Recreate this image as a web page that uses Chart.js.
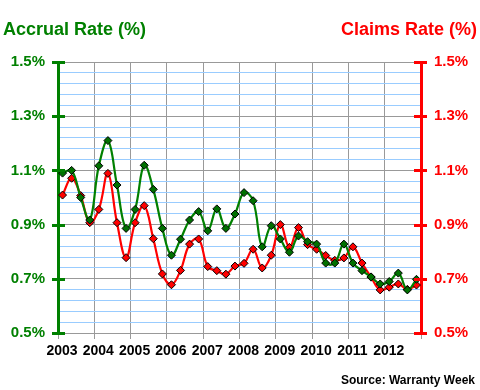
<!DOCTYPE html>
<html>
<head>
<meta charset="utf-8">
<script src="https://cdn.jsdelivr.net/npm/chart.js@4/dist/chart.umd.min.js"></script>
<style>
  body { margin: 0; background: #fff; }
  canvas { display: block; }
</style>
</head>
<body>
<canvas id="chart" width="480" height="390"></canvas>
<script>
'use strict';

// quarterly data, 2003 Q1 .. 2012 Q4
var years = [2003, 2004, 2005, 2006, 2007, 2008, 2009, 2010, 2011, 2012];
var accrualRate = [
    1.09, 1.10, 1.00, 0.917, 1.117, 1.21, 1.046, 0.886, 0.956, 1.119,
    1.03, 0.886, 0.787, 0.846, 0.917, 0.948, 0.877, 0.958, 0.886, 0.939,
    1.018, 0.988, 0.818, 0.896, 0.847, 0.798, 0.858, 0.837, 0.828, 0.758,
    0.758, 0.828, 0.758, 0.730, 0.707, 0.681, 0.690, 0.721, 0.659, 0.698
];
var claimsRate = [
    1.009, 1.071, 1.007, 0.907, 0.956, 1.089, 0.907, 0.778, 0.907, 0.970,
    0.848, 0.718, 0.678, 0.731, 0.828, 0.847, 0.745, 0.730, 0.717, 0.747,
    0.757, 0.809, 0.740, 0.787, 0.900, 0.816, 0.889, 0.826, 0.809, 0.786,
    0.768, 0.777, 0.818, 0.758, 0.706, 0.659, 0.669, 0.681, 0.661, 0.677
];
var yTickLabels = ['0.5%', '0.7%', '0.9%', '1.1%', '1.3%', '1.5%'];

var GREEN = '#008000';
var RED = '#ff0000';
var FONT = '"Liberation Sans", Arial, sans-serif';

// x position of each quarter (middle of the quarter)
function toPoints(values) {
    return values.map(function(v, i) {
        return { x: years[Math.floor(i / 4)] + ((i % 4) + 0.5) / 4, y: v };
    });
}

function isMajor(v) {
    var r = Math.round(v * 100);
    return (r - 50) % 20 === 0;
}

function majorLabel(v) {
    var r = Math.round(v * 100);
    return isMajor(v) ? yTickLabels[(r - 50) / 20] : '';
}

// [ titles, source and the crossing axis ticks ]
var decorations = {
    id: 'decorations',
    afterDraw: function(chart) {
        var ctx = chart.ctx;
        var yL = chart.scales.yL;
        var area = chart.chartArea;
        ctx.save();
        ctx.lineWidth = 3;
        yL.ticks.forEach(function(t) {
            if (!isMajor(t.value)) return;
            var y = Math.round(yL.getPixelForValue(t.value)) + 0.5;
            ctx.strokeStyle = GREEN;
            ctx.beginPath(); ctx.moveTo(area.left - 6, y); ctx.lineTo(area.left + 7, y); ctx.stroke();
            ctx.strokeStyle = RED;
            ctx.beginPath(); ctx.moveTo(area.right - 7, y); ctx.lineTo(area.right + 6, y); ctx.stroke();
        });

        ctx.font = 'bold 18px ' + FONT;
        ctx.textBaseline = 'middle';
        ctx.fillStyle = GREEN;
        ctx.textAlign = 'left';
        ctx.fillText('Accrual Rate (%)', 3, 30);
        ctx.fillStyle = RED;
        ctx.textAlign = 'right';
        ctx.fillText('Claims Rate (%)', 477, 30);

        ctx.font = 'bold 12px ' + FONT;
        ctx.fillStyle = '#000';
        ctx.fillText('Source: Warranty Week', 475, 381);
        ctx.restore();
    }
};

var yTicks = function(color) {
    return {
        color: color,
        font: { family: FONT, size: 15, weight: 'bold' },
        stepSize: 0.04,
        autoSkip: false,
        padding: 13,
        callback: function(v) { return majorLabel(v); }
    };
};

var chart = new Chart(document.getElementById('chart').getContext('2d'), {
    type: 'line',
    data: {
        datasets: [{
            label: 'Accrual Rate (%)',
            data: toPoints(accrualRate),
            yAxisID: 'yL',
            borderColor: GREEN,
            backgroundColor: '#007000',
            borderWidth: 2.2,
            pointStyle: 'rectRot',
            pointRadius: 4,
            pointBorderColor: '#000',
            pointBorderWidth: 1,
            tension: 0.4
        }, {
            label: 'Claims Rate (%)',
            data: toPoints(claimsRate),
            yAxisID: 'yR',
            borderColor: RED,
            backgroundColor: RED,
            borderWidth: 2.2,
            pointStyle: 'rectRot',
            pointRadius: 4,
            pointBorderColor: '#000',
            pointBorderWidth: 1,
            tension: 0.4
        }]
    },
    options: {
        responsive: false,
        animation: false,
        layout: { padding: { top: 62, left: 0, right: 0, bottom: 0 } },
        plugins: {
            legend: { display: false },
            tooltip: { enabled: false }
        },
        scales: {
            x: {
                type: 'linear',
                min: 2003,
                max: 2013,
                afterFit: function(s) { s.height = 57; },
                ticks: {
                    stepSize: 1,
                    color: '#000',
                    font: { family: FONT, size: 14, weight: 'bold' },
                    padding: 4,
                    labelOffset: 4,
                    maxRotation: 0,
                    callback: function(v) { return v < 2013 ? String(v) : ''; }
                },
                grid: { color: '#999999', tickColor: '#999999', tickLength: 6 },
                border: { color: '#999999', width: 1 }
            },
            yL: {
                position: 'left',
                min: 0.5,
                max: 1.5,
                afterFit: function(s) { s.width = 58; },
                ticks: yTicks(GREEN),
                grid: {
                    drawTicks: false,
                    color: function(c) { return isMajor(c.tick.value) ? '#999999' : '#99ccff'; }
                },
                border: { color: GREEN, width: 3 }
            },
            yR: {
                position: 'right',
                min: 0.5,
                max: 1.5,
                afterFit: function(s) { s.width = 59; },
                ticks: yTicks(RED),
                grid: { drawOnChartArea: false, drawTicks: false },
                border: { color: RED, width: 3 }
            }
        }
    },
    plugins: [decorations]
});
</script>
</body>
</html>
